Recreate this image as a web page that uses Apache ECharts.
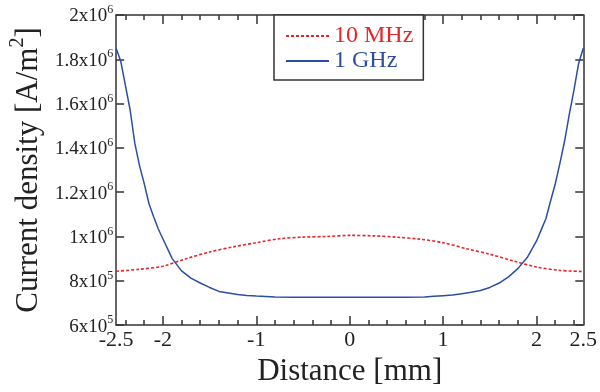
<!DOCTYPE html>
<html>
<head>
<meta charset="utf-8">
<script src="https://cdn.jsdelivr.net/npm/echarts@6/dist/echarts.min.js"></script>
<style>
html, body { margin: 0; padding: 0; background: #fff; }
#chart { width: 600px; height: 392px; }
</style>
</head>
<body>
<div id="chart"></div>
<script>
// distance [mm] for the 1 GHz curve
const xBlue = [-2.5, -2.45, -2.4, -2.35, -2.3, -2.25, -2.2, -2.15, -2.1, -2.05, -2.0,
  -1.9, -1.8, -1.7, -1.6, -1.5, -1.4, -1.3, -1.2, -1.1, -1.0, -0.9, -0.8,
  -0.6, -0.4, -0.2, 0, 0.2, 0.4, 0.6, 0.8, 0.9, 1.0, 1.1, 1.2, 1.3, 1.4,
  1.5, 1.6, 1.7, 1.8, 1.9, 2.0, 2.05, 2.1, 2.15, 2.2, 2.25, 2.3, 2.35, 2.4, 2.45, 2.5]
const blueValues = [1850000, 1790000, 1680000, 1570000, 1420000, 1320000, 1240000, 1150000, 1090000, 1035000, 990000,
  900000, 845000, 812000, 790000, 770000, 752000, 745000, 738000, 734000, 731000, 729000, 727000,
  726000, 726000, 726000, 726000, 726000, 726000, 726000, 727000, 730000, 733000, 736000, 742000, 748000, 756000,
  770000, 790000, 818000, 855000, 905000, 980000, 1030000, 1080000, 1160000, 1237000, 1330000, 1430000, 1550000, 1660000, 1780000, 1850000]

// distance [mm] for the 10 MHz curve
const xRed = [-2.5, -2.25, -2.0, -1.75, -1.5, -1.25, -1.0, -0.75, -0.5, -0.25, 0,
  0.25, 0.5, 0.75, 1.0, 1.25, 1.5, 1.75, 2.0, 2.25, 2.5]
const redValues = [843000, 852000, 866000, 900000, 930000, 953000, 972000, 990000, 997000, 1000000, 1005000,
  1003000, 997000, 988000, 972000, 945000, 920000, 890000, 862000, 847000, 842000]

const xLabelValues = [-2.5, -2, -1, 0, 1, 2, 2.5]
const xMajorTicks = [-2, -1, 0, 1, 2]
const xMinorTicks = [-2.4, -2.2, -1.8, -1.6, -1.4, -1.2, -0.8, -0.6, -0.4, -0.2,
  0.2, 0.4, 0.6, 0.8, 1.2, 1.4, 1.6, 1.8, 2.2, 2.4]

const yTickValues = [600000, 800000, 1000000, 1200000, 1400000, 1600000, 1800000, 2000000]
const yTickBase = ['6x10', '8x10', '1x10', '1.2x10', '1.4x10', '1.6x10', '1.8x10', '2x10']
const yTickExp = ['5', '5', '6', '6', '6', '6', '6', '6']

const FONT = 'Liberation Serif'
const AXIS_COLOR = '#333'
const RED = '#e3262a'
const BLUE = '#2b4ea3'

const chart = echarts.init(document.getElementById('chart'))

const axisLine = { show: true, onZero: false, lineStyle: { color: AXIS_COLOR, width: 1.5 } }

function tickAxis(position, values, len, withLine) {
  return {
    type: 'value', position: position, min: -2.5, max: 2.5,
    axisLine: withLine ? axisLine : { show: false, onZero: false },
    axisTick: { show: true, inside: true, length: len, customValues: values,
      lineStyle: { color: AXIS_COLOR, width: 1.5 } },
    axisLabel: { show: false },
    splitLine: { show: false }
  }
}

const bottomAxis = tickAxis('bottom', xMinorTicks, 5, true)
bottomAxis.axisLabel = {
  show: true, customValues: xLabelValues, margin: 4,
  fontFamily: FONT, fontSize: 22, color: '#222',
  formatter: v => String(v)
}
bottomAxis.name = 'Distance [mm]'
bottomAxis.nameLocation = 'middle'
bottomAxis.nameGap = 30
bottomAxis.nameTextStyle = { fontFamily: FONT, fontSize: 31, color: '#222' }

function yAxisOf(position, showLabel) {
  return {
    type: 'value', position: position, min: 600000, max: 2000000, interval: 200000,
    axisLine: axisLine,
    axisTick: { show: true, inside: true, length: 8, lineStyle: { color: AXIS_COLOR, width: 1.5 } },
    splitLine: { show: false },
    axisLabel: showLabel ? {
      margin: 3,
      formatter: v => {
        const i = yTickValues.indexOf(Math.round(v))
        return '{b|' + yTickBase[i] + '}{e|' + yTickExp[i] + '}'
      },
      rich: {
        b: { fontFamily: FONT, fontSize: 19, color: '#222', lineHeight: 22, verticalAlign: 'bottom' },
        e: { fontFamily: FONT, fontSize: 12, color: '#222', lineHeight: 22, verticalAlign: 'top' }
      }
    } : { show: false }
  }
}

const leftAxis = yAxisOf('left', true)
leftAxis.name = '{b|Current density [A/m}{s|2}{b|]}'
leftAxis.nameLocation = 'middle'
leftAxis.nameRotate = 90
leftAxis.nameGap = 64
leftAxis.nameTextStyle = {
  rich: {
    b: { fontFamily: FONT, fontSize: 31, color: '#222', lineHeight: 36, verticalAlign: 'bottom' },
    s: { fontFamily: FONT, fontSize: 20, color: '#222', lineHeight: 36, verticalAlign: 'top' }
  }
}

const option = {
  animation: false,
  backgroundColor: '#fff',
  grid: { left: 112, right: 13, top: 15, bottom: 62.5 },
  xAxis: [
    bottomAxis,
    tickAxis('bottom', xMajorTicks, 9, false),
    tickAxis('top', xMinorTicks, 5, true),
    tickAxis('top', xMajorTicks, 9, false)
  ],
  yAxis: [leftAxis, yAxisOf('right', false)],
  legend: {
    left: 274, top: 15, orient: 'vertical',
    backgroundColor: '#fff', borderColor: AXIS_COLOR, borderWidth: 1.5, borderRadius: 0,
    padding: [9, 10, 7, 11],
    itemWidth: 43, itemHeight: 24, itemGap: 1,
    itemStyle: { opacity: 0 },
    textStyle: { fontFamily: FONT, fontSize: 24 },
    data: [
      { name: '10 MHz', textStyle: { color: RED } },
      { name: '1 GHz', textStyle: { color: BLUE } }
    ]
  },
  series: [
    {
      name: '10 MHz', type: 'line', symbol: 'none', smooth: 0.3,
      data: xRed.map((x, i) => [x, redValues[i]]),
      lineStyle: { color: RED, width: 1.6, type: [3, 2] },
      itemStyle: { color: RED }
    },
    {
      name: '1 GHz', type: 'line', symbol: 'none',
      data: xBlue.map((x, i) => [x, blueValues[i]]),
      lineStyle: { color: BLUE, width: 1.5 },
      itemStyle: { color: BLUE }
    }
  ]
}

chart.setOption(option)
</script>
</body>
</html>
